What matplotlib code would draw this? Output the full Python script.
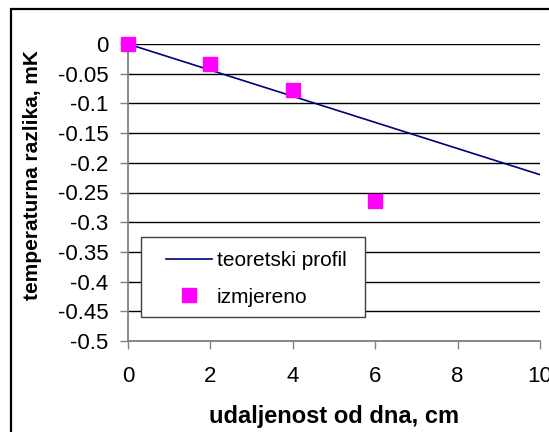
import matplotlib
matplotlib.use("Agg")
import matplotlib.pyplot as plt
from matplotlib.patches import Rectangle

plt.rcParams['font.family'] = ['Liberation Sans', 'DejaVu Sans']

# teoretski profil (pravac)
teor_x = [0, 10]
teor_y = [0, -0.22]

# izmjereno
mj_x = [0, 2, 4, 6]
mj_y = [0, -0.033, -0.078, -0.265]

xticks = [0, 2, 4, 6, 8, 10]
yticks = [0, -0.05, -0.1, -0.15, -0.2, -0.25, -0.3, -0.35, -0.4, -0.45, -0.5]
ytick_labels = ["0", "-0.05", "-0.1", "-0.15", "-0.2", "-0.25", "-0.3",
                "-0.35", "-0.4", "-0.45", "-0.5"]

W, H = 549, 432
fig = plt.figure(figsize=(W / 100, H / 100), dpi=100)
ax = fig.add_axes([128 / W, 1 - 341 / H, 412 / W, 297 / H])

ax.plot(teor_x, teor_y, color='#000080', lw=1.2, label='teoretski profil', zorder=3)
ax.plot(mj_x, mj_y, ls='none', marker='s', ms=10.5, color='#ff00ff',
        label='izmjereno', zorder=4, clip_on=False)

ax.set_xlim(0, 10)
ax.set_ylim(-0.5, 0)
ax.set_xticks(xticks)
ax.set_yticks(yticks)
ax.set_yticklabels(ytick_labels)
ax.yaxis.grid(True, color='black', lw=1.0)
ax.set_axisbelow(True)

for s in ['top', 'right']:
    ax.spines[s].set_visible(False)
for s in ['left', 'bottom']:
    ax.spines[s].set_color('#808080')
    ax.spines[s].set_linewidth(1.3)
ax.tick_params(axis='both', direction='out', length=6, width=1, color='#808080',
               labelsize=16)
ax.tick_params(axis='y', pad=8)
ax.tick_params(axis='x', pad=12)

fig.text(33 / W, 1 - 175 / H, 'temperaturna razlika, mK', rotation=90,
         ha='center', va='center', fontsize=15, fontweight='bold')
fig.text(334 / W, 1 - 416 / H, 'udaljenost od dna, cm',
         ha='center', va='center', fontsize=17, fontweight='bold')

# okvir legende
ax.add_artist(Rectangle((141 / W, 1 - 317 / H), 224 / W, 80 / H,
                        transform=fig.transFigure, facecolor='white',
                        edgecolor='#404040', lw=1.0, zorder=5, clip_on=False))
leg = ax.legend(loc='upper left', bbox_to_anchor=(166 / W, 1 - 251 / H),
                bbox_transform=fig.transFigure, frameon=False, fontsize=15,
                handlelength=2.2, handletextpad=0.25, labelspacing=0.85,
                borderpad=0, borderaxespad=0)
leg.set_zorder(6)

# okvir slike
fig.patches.append(Rectangle((11 / W, -0.1), 1.0, 1.1 - 9 / H,
                             transform=fig.transFigure, fill=False,
                             edgecolor='black', lw=1.6, zorder=10))

fig.savefig('out.png', dpi=100)
